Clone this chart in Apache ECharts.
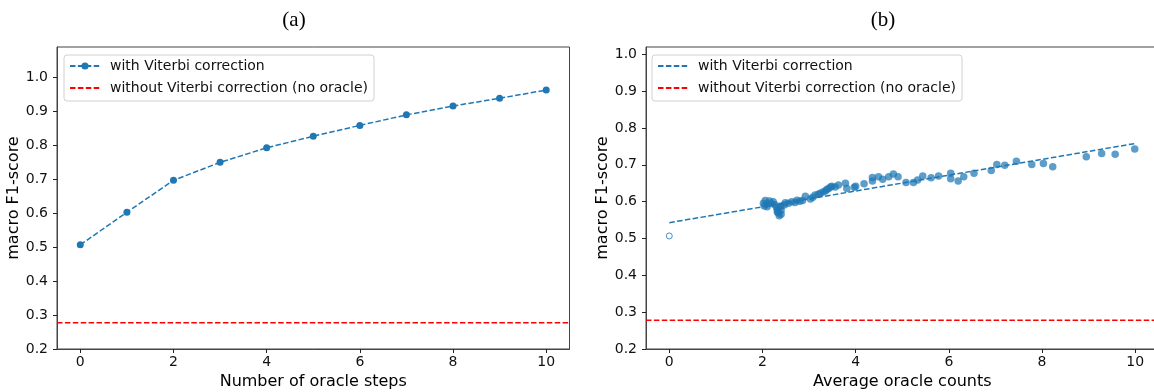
<!DOCTYPE html>
<html>
<head>
<meta charset="utf-8">
<script src="https://cdn.jsdelivr.net/npm/echarts@6/dist/echarts.min.js"></script>
<style>
  html, body { margin: 0; padding: 0; background: #fff; }
  #chart { width: 1154px; height: 392px; }
</style>
</head>
<body>
<div id="chart"></div>
<script>
// (a) macro F1 vs number of oracle steps
const oracleSteps = [0, 1, 2, 3, 4, 5, 6, 7, 8, 9, 10];
const f1Steps = [0.507, 0.603, 0.697, 0.750, 0.793, 0.827, 0.859, 0.890, 0.916, 0.939, 0.963];

// (b) macro F1 vs average oracle counts (scatter), plus the fitted line
const zeroPoint = [[0, 0.507]];
const countPoints = [
  [2.02, 0.596], [2.06, 0.603], [2.10, 0.594], [2.15, 0.602], [2.19, 0.595], [2.23, 0.600],
  [2.27, 0.592], [2.30, 0.585], [2.32, 0.577], [2.34, 0.569], [2.36, 0.562], [2.32, 0.572],
  [2.40, 0.566], [2.40, 0.577], [2.36, 0.585], [2.40, 0.588], [2.47, 0.591], [2.10, 0.586],
  [2.04, 0.588], [2.49, 0.597], [2.56, 0.596], [2.63, 0.600], [2.70, 0.598], [2.74, 0.604],
  [2.80, 0.601], [2.86, 0.603], [2.92, 0.615], [3.03, 0.607], [3.08, 0.612], [3.13, 0.618],
  [3.20, 0.620], [3.24, 0.623], [3.30, 0.626], [3.35, 0.629], [3.38, 0.633], [3.42, 0.636],
  [3.46, 0.640], [3.49, 0.642], [3.56, 0.640], [3.63, 0.645], [3.78, 0.650], [3.81, 0.636],
  [3.97, 0.639], [4.00, 0.642], [4.18, 0.649], [4.36, 0.666], [4.36, 0.656], [4.49, 0.668],
  [4.58, 0.661], [4.71, 0.668], [4.81, 0.675], [4.91, 0.668], [5.08, 0.652], [5.24, 0.652],
  [5.33, 0.659], [5.44, 0.670], [5.62, 0.665], [5.78, 0.670], [6.04, 0.677], [6.04, 0.662],
  [6.20, 0.656], [6.32, 0.668], [6.54, 0.677], [6.91, 0.685], [7.03, 0.701], [7.20, 0.699],
  [7.45, 0.710], [7.78, 0.701], [8.03, 0.704], [8.23, 0.695], [8.95, 0.722], [9.28, 0.731],
  [9.57, 0.729], [9.99, 0.743]
];
const fitLine = [[0, 0.543], [10, 0.758]];

// baseline without Viterbi correction
const baselineA = 0.277;
const baselineB = 0.278;

// axis ranges and ticks
const xRange = [-0.5, 10.5];
const xTicks = [0, 2, 4, 6, 8, 10];
const yTicks = [0.2, 0.3, 0.4, 0.5, 0.6, 0.7, 0.8, 0.9, 1.0];
const yMaxA = 1.09;
const yMaxB = 1.02;

const nameWith = 'with Viterbi correction';
const nameWithout = 'without Viterbi correction (no oracle)';
const legendLabels = { fitB: nameWith, baseB: nameWithout };

const blue = '#1f77b4';
const dash = [5.5, 2.4];
const font = 'DejaVu Sans';

const chart = echarts.init(document.getElementById('chart'), null, { renderer: 'canvas' });

const xAxisBase = (gridIndex, name) => ({
  type: 'value',
  gridIndex,
  min: xRange[0],
  max: xRange[1],
  name,
  nameLocation: 'middle',
  nameGap: 24,
  nameTextStyle: { fontFamily: font, fontSize: 16, color: '#000' },
  axisLine: { show: true, onZero: false, lineStyle: { color: '#444', width: 1 } },
  axisTick: { show: true, length: 4, customValues: xTicks, lineStyle: { color: '#222', width: 1 } },
  axisLabel: { customValues: xTicks, margin: 6, fontFamily: font, fontSize: 14, color: '#111' },
  splitLine: { show: false }
});

const yAxisBase = (gridIndex, max) => ({
  type: 'value',
  gridIndex,
  min: 0.2,
  max,
  name: 'macro F1-score',
  nameLocation: 'middle',
  nameGap: 32,
  nameTextStyle: { fontFamily: font, fontSize: 16, color: '#000' },
  axisLine: { show: true, onZero: false, lineStyle: { color: '#444', width: 1 } },
  axisTick: { show: true, length: 4, customValues: yTicks, lineStyle: { color: '#222', width: 1 } },
  axisLabel: {
    customValues: yTicks, margin: 9, fontFamily: font, fontSize: 14, color: '#111',
    formatter: v => v.toFixed(1)
  },
  splitLine: { show: false }
});

// the line series legend icon always carries a symbol; hide it where matplotlib shows none
const hidden = { opacity: 0 };

const legendBase = (left, data, formatter) => ({
  orient: 'vertical',
  left,
  top: 55,
  padding: [4, 6, 6, 5],
  itemGap: 8,
  itemWidth: 30,
  itemHeight: 9,
  selectedMode: false,
  borderColor: '#d0d0d0',
  borderWidth: 1,
  borderRadius: 3,
  textStyle: { fontFamily: font, fontSize: 14, color: '#111', padding: [0, 0, 0, 5] },
  data,
  formatter
});

const option = {
  animation: false,
  backgroundColor: '#fff',
  title: [
    { text: '(a)', left: 289, top: 5, textAlign: 'center',
      textStyle: { fontFamily: 'Liberation Serif', fontSize: 21, fontWeight: 'normal', color: '#000' } },
    { text: '(b)', left: 878, top: 5, textAlign: 'center',
      textStyle: { fontFamily: 'Liberation Serif', fontSize: 21, fontWeight: 'normal', color: '#000' } }
  ],
  grid: [
    { left: 57, top: 47, width: 512.5, height: 302, outerBoundsMode: 'none',
      show: true, borderColor: '#444', borderWidth: 1 },
    { left: 646, top: 47, width: 512.5, height: 302, outerBoundsMode: 'none',
      show: true, borderColor: '#444', borderWidth: 1 }
  ],
  legend: [
    legendBase(64, [
      { name: nameWith },
      { name: nameWithout, itemStyle: hidden }
    ]),
    legendBase(652, [
      { name: 'fitB', itemStyle: hidden },
      { name: 'baseB', itemStyle: hidden }
    ], n => legendLabels[n] || n)
  ],
  xAxis: [
    xAxisBase(0, 'Number of oracle steps'),
    xAxisBase(1, 'Average oracle counts')
  ],
  yAxis: [
    yAxisBase(0, yMaxA),
    yAxisBase(1, yMaxB)
  ],
  series: [
    {
      name: nameWith,
      type: 'line',
      xAxisIndex: 0, yAxisIndex: 0,
      data: oracleSteps.map((x, i) => [x, f1Steps[i]]),
      symbol: 'circle',
      symbolSize: 7,
      itemStyle: { color: blue },
      lineStyle: { color: blue, width: 1.5, type: dash }
    },
    {
      name: nameWithout,
      type: 'line',
      xAxisIndex: 0, yAxisIndex: 0,
      data: xRange.map(x => [x, baselineA]),
      symbol: 'none',
      itemStyle: { color: '#ff0000' },
      lineStyle: { color: '#ff0000', width: 1.5, type: dash }
    },
    {
      name: 'pointsB',
      type: 'scatter',
      xAxisIndex: 1, yAxisIndex: 1,
      data: countPoints,
      symbolSize: 7.5,
      itemStyle: { color: blue, opacity: 0.72 }
    },
    {
      name: 'zeroB',
      type: 'scatter',
      xAxisIndex: 1, yAxisIndex: 1,
      data: zeroPoint,
      symbolSize: 6,
      itemStyle: { color: '#fff', borderColor: blue, borderWidth: 1 }
    },
    {
      name: 'fitB',
      type: 'line',
      xAxisIndex: 1, yAxisIndex: 1,
      data: fitLine,
      symbol: 'none',
      z: 3,
      itemStyle: { color: blue },
      lineStyle: { color: blue, width: 1.5, type: dash }
    },
    {
      name: 'baseB',
      type: 'line',
      xAxisIndex: 1, yAxisIndex: 1,
      data: xRange.map(x => [x, baselineB]),
      symbol: 'none',
      itemStyle: { color: '#ff0000' },
      lineStyle: { color: '#ff0000', width: 1.5, type: dash }
    }
  ]
};

chart.setOption(option);
window.addEventListener('resize', () => chart.resize());
</script>
</body>
</html>
